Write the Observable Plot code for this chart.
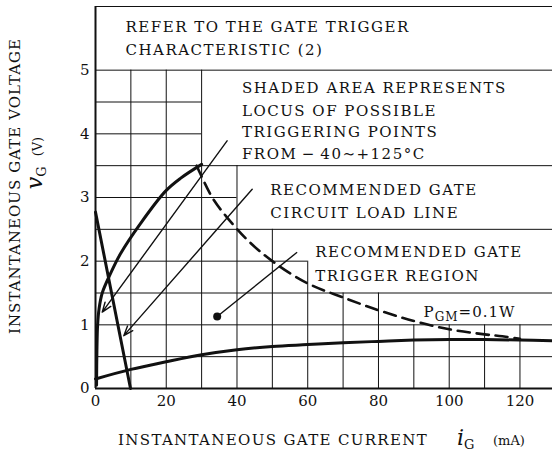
<!DOCTYPE html>
<html><head><meta charset="utf-8">
<script src="https://cdn.jsdelivr.net/npm/d3@7"></script>
<script src="https://cdn.jsdelivr.net/npm/@observablehq/plot@0.6"></script>
<style>
body{margin:0;background:#fff;}
</style></head><body><div id="chart"></div>
<script>
const XMAX = 129.2;
const xTicks = [0, 20, 40, 60, 80, 100, 120];
const yTicks = [0, 1, 2, 3, 4, 5];

// thick boundary curves of the shaded triggering area (mA, V)
const upperBoundary = [[0.3,0.05],[0.4,0.6],[0.6,1.0],[1.0,1.25],[1.9,1.5],[4.2,1.8],[7.1,2.12],[12.7,2.59],[19.8,3.1],[24,3.3],[30,3.52]];
const lowerBoundary = [[0,0.15],[10,0.3],[20,0.42],[30,0.53],[40,0.61],[50,0.66],[60,0.69],[70,0.72],[80,0.74],[90,0.76],[100,0.77],[110,0.77],[120,0.76],[129.2,0.75]];
const loadLine = [[0,2.77],[9.9,0]];
const pgmCurve = [[28.6,3.5],[33,3.0],[37,2.7],[43,2.33],[50,2.0],[60,1.65],[70,1.43],[80,1.23],[90,1.06],[100,0.93],[110,0.85],[115,0.82],[120,0.78]];

// grid segments: [y, x1, x2] and [x, y1, y2]
const hGrid = [[6,0,XMAX],[5,0,XMAX],[4.5,0,30],[4,0,30],[3.5,0,XMAX],[3,0,40],[2.5,0,XMAX],[2,0,60],[1.5,0,XMAX],[1,0,XMAX],[0.5,0,XMAX]];
const vGrid = [[10,0,5],[20,0,5],[30,0,5],[40,0,3.5],[50,0,2.5],[60,0,2],[70,0,1.5],[80,0,1.5],[90,0,1],[100,0,1],[110,0,1],[120,0,1]];

// annotation arrows [x1,y1,x2,y2]
const arrows = [[37.2,3.89,1.9,1.2],[44.3,3.13,8.0,0.83]];
const pointer = [[57.0,2.14,34.4,1.13]];

// notes [x, y, text]
const notes = [
  [8.5,5.67,"REFER TO THE GATE TRIGGER"],
  [8.5,5.31,"CHARACTERISTIC (2)"],
  [41.4,4.71,"SHADED AREA REPRESENTS"],
  [41.4,4.36,"LOCUS OF POSSIBLE"],
  [41.4,4.02,"TRIGGERING POINTS"],
  [41.4,3.68,"FROM\u2009\u2212\u200940\u223C+125\u00B0C"],
  [49.4,3.12,"RECOMMENDED GATE"],
  [49.4,2.76,"CIRCUIT LOAD LINE"],
  [62.1,2.14,"RECOMMENDED GATE"],
  [62.1,1.77,"TRIGGER REGION"]
];

const FONT = "DejaVu Serif, serif";
const ink = "#111";
const LS = "1.5px";

const plot = Plot.plot({
  width: 552, height: 454,
  marginLeft: 95, marginRight: 0, marginTop: 6, marginBottom: 66,
  x: {domain: [0, XMAX]},
  y: {domain: [0, 6]},
  style: {fontFamily: FONT, fontSize: "15px", color: ink, background: "#fff"},
  marks: [
    Plot.ruleY(hGrid, {y: d => d[0], x1: d => d[1], x2: d => d[2], stroke: ink, strokeWidth: 1}),
    Plot.ruleX(vGrid, {x: d => d[0], y1: d => d[1], y2: d => d[2], stroke: ink, strokeWidth: 1}),
    Plot.ruleX([0], {y1: 0, y2: 6, stroke: ink, strokeWidth: 2}),
    Plot.ruleY([0], {x1: 0, x2: XMAX, stroke: ink, strokeWidth: 2}),
    Plot.line(upperBoundary, {x: d => d[0], y: d => d[1], stroke: ink, strokeWidth: 3, curve: "catmull-rom"}),
    Plot.line(lowerBoundary, {x: d => d[0], y: d => d[1], stroke: ink, strokeWidth: 3, curve: "catmull-rom"}),
    Plot.line(loadLine, {x: d => d[0], y: d => d[1], stroke: ink, strokeWidth: 3}),
    Plot.line(pgmCurve, {x: d => d[0], y: d => d[1], stroke: ink, strokeWidth: 2.6, strokeDasharray: "12,7", curve: "catmull-rom"}),
    Plot.arrow(arrows, {x1: d => d[0], y1: d => d[1], x2: d => d[2], y2: d => d[3], stroke: ink, strokeWidth: 1.4, headLength: 11, headAngle: 40}),
    Plot.link(pointer, {x1: d => d[0], y1: d => d[1], x2: d => d[2], y2: d => d[3], stroke: ink, strokeWidth: 1.4}),
    Plot.dot(pointer, {x: d => d[2], y: d => d[3], r: 4, fill: ink}),
    Plot.text(notes, {x: d => d[0], y: d => d[1], text: d => d[2], textAnchor: "start", fontSize: 15, fill: ink, className: "note"}),
    Plot.axisX({ticks: xTicks, tickSize: 0, tickPadding: 7, fontSize: 15, label: null, tickFormat: d3.format("d")}),
    Plot.axisY({ticks: yTicks, tickSize: 0, tickPadding: 6, fontSize: 15, label: null, tickFormat: d3.format("d")})
  ]
});

const svg = d3.select(plot);
const sx = plot.scale("x"), sy = plot.scale("y");
svg.selectAll("g[aria-label='text'] text").style("letter-spacing", LS);

// P_GM label
const pg = svg.append("text").attr("x", sx.apply(92.9)).attr("y", sy.apply(1.2)).attr("dy", "0.35em")
  .attr("text-anchor", "start").attr("font-size", 15).attr("fill", ink).style("letter-spacing", "1px");
pg.append("tspan").text("P");
pg.append("tspan").attr("font-size", 12).attr("dy", 4).text("GM");
pg.append("tspan").attr("dy", -4).text("=0.1W");

// x axis title
const xt = svg.append("g").attr("fill", ink).attr("text-anchor", "start");
xt.append("text").attr("x", 118).attr("y", 445).attr("font-size", 15).style("letter-spacing", "1.35px").text("INSTANTANEOUS GATE CURRENT");
const ig = xt.append("text").attr("x", 457).attr("y", 445);
ig.append("tspan").attr("font-size", 22).attr("font-style", "italic").text("i");
ig.append("tspan").attr("font-size", 13).attr("dy", 4).text("G");
xt.append("text").attr("x", 493).attr("y", 445).attr("font-size", 13).text("(mA)");

// y axis title
const yt = svg.append("g").attr("fill", ink);
yt.append("text").attr("transform", "translate(20,186) rotate(-90)").attr("text-anchor", "middle")
  .attr("font-size", 15).style("letter-spacing", "1.05px").text("INSTANTANEOUS GATE VOLTAGE");
const y2 = yt.append("text").attr("transform", "translate(42,163) rotate(-90)").attr("text-anchor", "middle").attr("font-size", 15);
y2.append("tspan").attr("font-size", 22).attr("font-style", "italic").text("v");
y2.append("tspan").attr("font-size", 13).attr("dy", 4).text("G");
y2.append("tspan").attr("dx", 10).attr("dy", -4).attr("font-size", 13).text("(V)");

document.getElementById("chart").appendChild(plot);
</script>
</body></html>
